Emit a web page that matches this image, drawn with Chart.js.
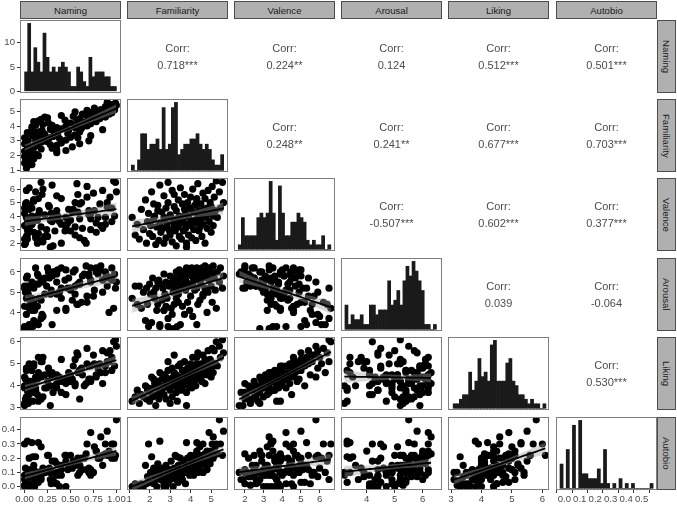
<!DOCTYPE html>
<html>
<head>
<meta charset="utf-8">
<script src="https://cdn.jsdelivr.net/npm/chart.js@4.4.1/dist/chart.umd.min.js"></script>
<style>
  body { margin: 0; background: #fff; font-family: "Liberation Sans", Arial, sans-serif; }
  #wrap { position: relative; width: 677px; height: 505px; overflow: hidden; }
  .strip { position: absolute; box-sizing: border-box; background: #b0b0b0; border: 1px solid #4d4d4d;
           color: #1a1a1a; font-size: 9.6px; display: flex; align-items: center; justify-content: center; }
  .strip.side { writing-mode: vertical-rl; }
  .frame { position: absolute; box-sizing: border-box; border: 1px solid #7f7f7f; pointer-events: none; }
  .corr { position: absolute; text-align: center; color: #4d4d4d; font-size: 11px; line-height: 17px; }
  canvas { position: absolute; }
</style>
</head>
<body>
<div id="wrap"></div>
<script>
'use strict';

const varNames = ['Naming', 'Familiarity', 'Valence', 'Arousal', 'Liking', 'Autobio'];

// one value per item
const naming = [
  0.02, 0.00, 0.05, 0.03, 0.10, 0.01, 0.07, 0.00, 0.15, 0.04,
  0.12, 0.02, 0.35, 0.08, 0.00, 0.45, 0.06, 0.18, 0.03, 0.30,
  0.10, 0.52, 0.05, 0.35, 0.14, 0.28, 0.00, 0.60, 0.40, 0.02,
  0.24, 0.70, 0.12, 0.45, 0.02, 0.20, 0.38, 0.27, 0.00, 0.50,
  0.16, 0.31, 0.72, 0.10, 0.55, 0.22, 0.36, 0.05, 0.47, 0.03,
  0.60, 0.14, 0.33, 0.48, 0.19, 0.85, 0.29, 0.40, 0.08, 0.62,
  0.35, 0.55, 0.08, 0.45, 0.68, 0.30, 0.12, 0.58, 0.20, 0.72,
  0.26, 0.50, 0.65, 0.10, 0.78, 0.15, 0.57, 0.44, 0.70, 0.18,
  0.82, 0.60, 0.25, 0.75, 0.88, 0.53, 0.67, 0.40, 0.80, 0.92,
  0.63, 0.85, 0.72, 0.95, 0.55, 0.78, 0.90, 0.68, 0.98, 0.83,
  0.93, 0.76, 0.97, 0.88, 1.00, 0.95, 0.99, 0.90, 0.22, 0.15,
  0.08, 0.01, 0.04, 0.11, 0.03, 0.18, 0.09, 0.28, 0.35, 0.58,
];
const familiarity = [
  1.15, 1.50, 1.60, 1.70, 1.80, 1.85, 1.90, 1.95, 2.00, 2.05,
  2.10, 2.15, 2.20, 2.25, 2.30, 2.35, 2.40, 2.45, 2.50, 2.50,
  2.55, 2.60, 2.65, 2.70, 2.70, 2.75, 2.80, 2.80, 2.85, 2.90,
  2.95, 3.00, 3.00, 3.05, 3.10, 3.10, 3.15, 3.20, 3.20, 3.25,
  3.30, 3.30, 3.35, 3.40, 3.40, 3.45, 3.45, 3.50, 3.50, 3.55,
  3.60, 3.60, 3.65, 3.70, 3.70, 3.75, 3.75, 3.80, 3.80, 3.85,
  3.90, 3.90, 3.95, 4.00, 4.00, 4.05, 4.05, 4.10, 4.10, 4.15,
  4.20, 4.20, 4.25, 4.30, 4.30, 4.35, 4.35, 4.40, 4.40, 4.45,
  4.50, 4.50, 4.55, 4.60, 4.60, 4.65, 4.70, 4.70, 4.75, 4.80,
  4.80, 4.85, 4.90, 4.90, 4.95, 5.00, 5.00, 5.05, 5.10, 5.10,
  5.15, 5.20, 5.25, 5.30, 5.40, 5.45, 5.55, 5.60, 4.60, 4.30,
  1.40, 2.20, 3.00, 2.70, 1.30, 2.90, 3.35, 3.80, 2.40, 3.20,
];
const valence = [
  3.9, 2.3, 4.5, 3.0, 5.2, 2.0, 3.6, 4.2, 2.7, 3.3,
  5.8, 2.5, 3.8, 4.0, 1.9, 3.2, 4.8, 2.2, 3.5, 6.3,
  2.8, 4.3, 3.1, 5.5, 2.0, 3.7, 4.6, 2.4, 3.4, 5.0,
  3.0, 4.1, 2.6, 3.9, 5.9, 2.1, 3.6, 4.7, 3.3, 2.9,
  4.4, 1.8, 3.8, 5.2, 3.2, 2.5, 4.0, 6.1, 3.5, 2.3,
  4.9, 3.7, 2.9, 4.5, 5.6, 3.1, 4.2, 2.0, 3.4, 5.0,
  3.9, 2.6, 4.6, 3.3, 5.4, 3.6, 2.4, 4.3, 6.0, 3.0,
  4.8, 3.7, 2.2, 5.1, 3.5, 4.1, 6.4, 2.9, 4.4, 3.2,
  4.9, 3.8, 2.5, 5.7, 3.4, 4.5, 2.0, 5.3, 3.9, 4.6,
  3.1, 5.9, 4.2, 3.6, 5.0, 2.8, 4.7, 6.2, 4.0, 3.3,
  5.4, 4.4, 6.6, 3.9, 5.8, 4.6, 6.5, 5.0, 4.1, 5.3,
  3.4, 4.9, 2.8, 3.9, 2.6, 6.5, 3.7, 1.7, 4.4, 5.6,
];
const arousal = [
  4.7, 5.3, 4.2, 5.0, 3.6, 5.2, 4.4, 3.3, 5.4, 4.9,
  3.5, 5.7, 4.9, 4.7, 5.2, 4.1, 4.4, 5.6, 3.3, 3.4,
  5.4, 4.6, 5.2, 4.1, 5.9, 4.9, 4.3, 5.5, 4.7, 3.3,
  5.3, 5.8, 5.4, 4.2, 3.9, 5.5, 5.0, 5.7, 3.2, 5.2,
  4.7, 6.0, 5.5, 4.5, 4.9, 5.7, 6.1, 3.4, 5.2, 5.8,
  5.4, 4.3, 6.0, 5.7, 3.9, 5.6, 5.1, 6.2, 5.5, 4.5,
  5.9, 5.3, 4.1, 6.1, 4.8, 5.8, 6.2, 5.4, 3.8, 5.6,
  6.0, 5.1, 5.9, 5.2, 6.2, 5.8, 4.4, 5.6, 5.9, 4.6,
  6.1, 5.4, 6.2, 4.8, 5.7, 6.0, 6.3, 5.2, 5.9, 4.0,
  5.8, 5.0, 6.2, 5.6, 6.1, 6.0, 5.3, 4.5, 5.9, 6.3,
  5.7, 5.1, 4.2, 6.0, 5.5, 6.2, 5.2, 5.8, 4.9, 3.4,
  4.4, 5.0, 3.2, 4.1, 5.3, 3.7, 3.3, 5.9, 5.5, 4.4,
];
const liking = [
  3.3, 3.2, 3.6, 3.5, 4.0, 3.4, 3.8, 3.9, 3.3, 3.7,
  4.4, 3.5, 3.9, 4.1, 3.1, 3.6, 4.2, 3.4, 3.8, 4.6,
  3.7, 4.3, 3.9, 4.5, 3.6, 4.0, 4.4, 3.4, 4.2, 4.7,
  3.9, 4.3, 3.8, 4.1, 4.8, 3.5, 4.4, 4.6, 4.0, 4.2,
  4.5, 3.7, 4.3, 4.9, 4.1, 3.9, 4.4, 5.0, 4.2, 3.8,
  4.7, 4.3, 4.0, 4.6, 5.1, 4.1, 4.5, 3.7, 4.2, 4.8,
  4.4, 4.0, 4.7, 4.3, 5.0, 4.4, 3.9, 4.6, 5.3, 4.2,
  4.8, 4.5, 4.0, 5.0, 4.5, 4.6, 5.5, 4.3, 4.9, 4.4,
  5.0, 4.7, 4.2, 5.4, 4.6, 4.9, 4.1, 5.2, 4.8, 5.1,
  4.5, 5.6, 4.9, 4.7, 5.2, 4.4, 5.1, 5.7, 4.9, 4.6,
  5.6, 5.0, 6.0, 4.9, 5.8, 5.3, 6.1, 5.5, 4.5, 5.3,
  3.8, 4.3, 3.2, 4.0, 3.5, 5.1, 3.3, 3.1, 4.1, 5.4,
];
const autobio = [
  0.00, 0.01, 0.02, 0.00, 0.15, 0.02, 0.07, 0.30, 0.03, 0.10,
  0.21, 0.08, 0.02, 0.10, 0.05, 0.00, 0.12, 0.07, 0.32, 0.10,
  0.05, 0.13, 0.08, 0.02, 0.10, 0.05, 0.00, 0.15, 0.08, 0.03,
  0.12, 0.10, 0.05, 0.18, 0.07, 0.10, 0.00, 0.13, 0.08, 0.22,
  0.10, 0.05, 0.12, 0.03, 0.15, 0.10, 0.08, 0.20, 0.12, 0.07,
  0.10, 0.05, 0.18, 0.13, 0.10, 0.15, 0.02, 0.12, 0.31, 0.20,
  0.10, 0.15, 0.08, 0.22, 0.12, 0.18, 0.10, 0.20, 0.13, 0.08,
  0.22, 0.15, 0.20, 0.12, 0.25, 0.10, 0.18, 0.22, 0.13, 0.28,
  0.20, 0.15, 0.22, 0.10, 0.30, 0.18, 0.23, 0.15, 0.20, 0.25,
  0.12, 0.22, 0.38, 0.20, 0.16, 0.25, 0.22, 0.30, 0.20, 0.35,
  0.22, 0.28, 0.30, 0.23, 0.47, 0.30, 0.22, 0.39, 0.10, 0.31,
  0.00, 0.13, 0.10, 0.00, 0.02, 0.05, 0.21, 0.10, 0.16, 0.08,
];

// histogram counts (30 bins each)
const namingBins = [4, 14, 4, 9, 6, 4, 12, 7, 4, 5, 4, 5, 6, 5, 4, 1, 1, 5, 4, 2, 1, 7, 3, 4, 4, 4, 3, 3, 1, 1];
const familiarityBins = [1, 0, 2, 7, 7, 4, 5, 5, 6, 4, 12, 4, 5, 12, 13, 3, 4, 5, 5, 6, 6, 7, 5, 4, 5, 4, 2, 1, 1, 3];
const valenceBins = [1, 7, 3, 3, 3, 3, 7, 8, 7, 8, 15, 8, 2, 14, 8, 3, 3, 6, 6, 8, 7, 6, 2, 1, 2, 1, 1, 3, 0, 1];
const arousalBins = [5, 1, 3, 2, 2, 3, 1, 1, 5, 5, 3, 4, 4, 4, 10, 5, 6, 8, 5, 10, 13, 11, 14, 12, 10, 8, 1, 1, 0, 1];
const likingBins = [1, 1, 2, 3, 3, 8, 4, 6, 11, 7, 8, 6, 14, 15, 6, 6, 6, 10, 11, 6, 5, 3, 3, 2, 1, 2, 1, 1, 0, 1];
const autobioBins = [5, 0, 8, 0, 13, 0, 14, 3, 3, 2, 2, 2, 4, 1, 8, 1, 0, 1, 0, 2, 0, 1, 0, 1, 0, 0, 0, 0, 0, 1];
// centre of the first bin and bin width, per variable
const binFirst = [1 / 60, 1.185, 1.73, 3.275, 3.12, -0.018];
const binStep = [1 / 30, 0.150, 0.165, 0.109, 0.1017, 0.0201];

// upper triangle, row by row
const corrLabels = [
  '0.718***', '0.224**', '0.124', '0.512***', '0.501***',
  '0.248**', '0.241**', '0.677***', '0.703***',
  '-0.507***', '0.602***', '0.377***',
  '0.039', '-0.064',
  '0.530***',
];

// axis ranges and ticks
const axisMin = [-0.05, 0.9, 1.42, 3.08, 2.9, -0.024];
const axisMax = [1.05, 5.82, 6.82, 6.69, 6.22, 0.49];
const tickVals = [
  [0, 0.25, 0.5, 0.75, 1],
  [1, 2, 3, 4, 5],
  [2, 3, 4, 5, 6],
  [4, 5, 6],
  [3, 4, 5, 6],
  [0, 0.1, 0.2, 0.3, 0.4],
];
const tickDec = [2, 0, 0, 0, 0, 1];
const countTicks = [0, 5, 10];
const autobioDiagMin = -0.054;
const autobioDiagMax = 0.6;
const autobioDiagTicks = [0, 0.1, 0.2, 0.3, 0.4, 0.5];

const vars = [naming, familiarity, valence, arousal, liking, autobio];
const bins = [namingBins, familiarityBins, valenceBins, arousalBins, likingBins, autobioBins];

// layout
const colLeft = [20, 127, 234, 341, 448, 556];
const rowTop = [20, 99, 178, 258, 337, 417];
const panelW = 101;
const panelH = 73;
const PAD = 8;
const YAXIS = 22;
const XAXIS = 15;
const FONT = '"Liberation Sans", Arial, sans-serif';

const wrap = document.getElementById('wrap');
Chart.defaults.font.family = FONT;

function addDiv(cls, left, top, w, h, html) {
  const d = document.createElement('div');
  d.className = cls;
  d.style.left = left + 'px';
  d.style.top = top + 'px';
  d.style.width = w + 'px';
  d.style.height = h + 'px';
  if (html) d.innerHTML = html;
  wrap.appendChild(d);
  return d;
}

function addCanvas(r, c) {
  const left = colLeft[c] - PAD - (c === 0 ? YAXIS : 0);
  const top = rowTop[r] - PAD;
  const w = panelW + 2 * PAD + (c === 0 ? YAXIS : 0);
  const h = panelH + 2 * PAD + (r === 5 ? XAXIS : 0);
  const cv = document.createElement('canvas');
  cv.width = w;
  cv.height = h;
  cv.style.left = left + 'px';
  cv.style.top = top + 'px';
  cv.style.width = w + 'px';
  cv.style.height = h + 'px';
  wrap.appendChild(cv);
  return cv;
}

function axis(show, pos, min, max, ticks, dec) {
  return {
    type: 'linear',
    position: pos,
    display: show,
    min: min,
    max: max,
    offset: false,
    grid: { display: true, drawOnChartArea: false, drawTicks: true, tickLength: 3, color: '#333', lineWidth: 1 },
    border: { display: false },
    ticks: {
      autoSkip: false,
      maxRotation: 0,
      padding: pos === 'left' ? 2 : 1,
      color: '#4d4d4d',
      font: { size: 9.6, family: FONT },
      callback: v => Number(v).toFixed(dec),
    },
    afterBuildTicks: s => { s.ticks = ticks.map(v => ({ value: v })); },
    afterFit: s => {
      // hidden axes must keep zero size
      if (!show) return;
      if (pos === 'left') s.width = YAXIS;
      else s.height = XAXIS;
    },
  };
}

const baseOptions = {
  responsive: false,
  animation: false,
  devicePixelRatio: 1,
  events: [],
  layout: { padding: PAD },
  plugins: { legend: { display: false }, tooltip: { enabled: false } },
};

function mean(a) {
  return a.reduce((s, v) => s + v, 0) / a.length;
}

// linear fit with 95% band, like geom_smooth(method = "lm")
function fitLine(xs, ys) {
  const n = xs.length;
  const mx = mean(xs);
  const my = mean(ys);
  let sxx = 0, sxy = 0;
  for (let i = 0; i < n; i++) {
    sxx += (xs[i] - mx) ** 2;
    sxy += (xs[i] - mx) * (ys[i] - my);
  }
  const b = sxy / sxx;
  const a = my - b * mx;
  let sse = 0;
  for (let i = 0; i < n; i++) sse += (ys[i] - a - b * xs[i]) ** 2;
  const s = Math.sqrt(sse / (n - 2));
  const lo = Math.min(...xs);
  const hi = Math.max(...xs);
  const line = [], low = [], high = [];
  for (let k = 0; k <= 40; k++) {
    const x = lo + (hi - lo) * k / 40;
    const y = a + b * x;
    const se = s * Math.sqrt(1 / n + (x - mx) ** 2 / sxx);
    line.push({ x, y });
    low.push({ x, y: y - 1.98 * se });
    high.push({ x, y: y + 1.98 * se });
  }
  return { line, low, high };
}

function drawScatter(r, c) {
  const xs = vars[c];
  const ys = vars[r];
  const fit = fitLine(xs, ys);
  new Chart(addCanvas(r, c), {
    type: 'scatter',
    data: {
      datasets: [
        {
          data: xs.map((x, i) => ({ x, y: ys[i] })),
          pointRadius: 3.6,
          pointBackgroundColor: '#000',
          pointBorderWidth: 0,
          order: 3,
          clip: 0,
        },
        {
          type: 'line', data: fit.low, pointRadius: 0, borderWidth: 0,
          fill: false, order: 2, clip: 0,
        },
        {
          type: 'line', data: fit.high, pointRadius: 0, borderWidth: 0,
          fill: '-1', backgroundColor: 'rgba(160,160,160,0.4)', order: 2, clip: 0,
        },
        {
          type: 'line', data: fit.line, pointRadius: 0, borderWidth: 1.8,
          borderColor: '#000', fill: false, order: 1, clip: 0,
        },
      ],
    },
    options: {
      ...baseOptions,
      scales: {
        x: axis(r === 5, 'bottom', axisMin[c], axisMax[c], tickVals[c], tickDec[c]),
        y: axis(c === 0, 'left', axisMin[r], axisMax[r], tickVals[r], tickDec[r]),
      },
    },
  });
}

function drawHist(i) {
  const counts = bins[i];
  const top = Math.max(...counts);
  const isLast = i === 5;
  new Chart(addCanvas(i, i), {
    type: 'bar',
    data: {
      datasets: [{
        data: counts.map((n, k) => ({ x: binFirst[i] + k * binStep[i], y: n })),
        backgroundColor: '#1a1a1a',
        borderWidth: 0,
        barPercentage: 1,
        categoryPercentage: 1,
      }],
    },
    options: {
      ...baseOptions,
      scales: {
        x: isLast
          ? axis(true, 'bottom', autobioDiagMin, autobioDiagMax, autobioDiagTicks, 1)
          : axis(false, 'bottom', axisMin[i], axisMax[i], tickVals[i], tickDec[i]),
        y: axis(i === 0, 'left', -top * 0.025, top * 1.05, countTicks, 0),
      },
    },
  });
}

// strips
for (let i = 0; i < 6; i++) {
  addDiv('strip', colLeft[i], 1, panelW, 18, varNames[i]);
  addDiv('strip side', 657, rowTop[i], 19, panelH, varNames[i]);
}

// panels
let k = 0;
for (let r = 0; r < 6; r++) {
  for (let c = 0; c < 6; c++) {
    if (r === c) drawHist(r);
    else if (r > c) drawScatter(r, c);
    else {
      addDiv('corr', colLeft[c], rowTop[r] + 20, panelW, 34, 'Corr:<br>' + corrLabels[k]);
      k++;
    }
  }
}

// panel borders on top of the data
for (let r = 0; r < 6; r++) {
  for (let c = 0; c <= r; c++) addDiv('frame', colLeft[c], rowTop[r], panelW, panelH);
}
</script>
</body>
</html>
